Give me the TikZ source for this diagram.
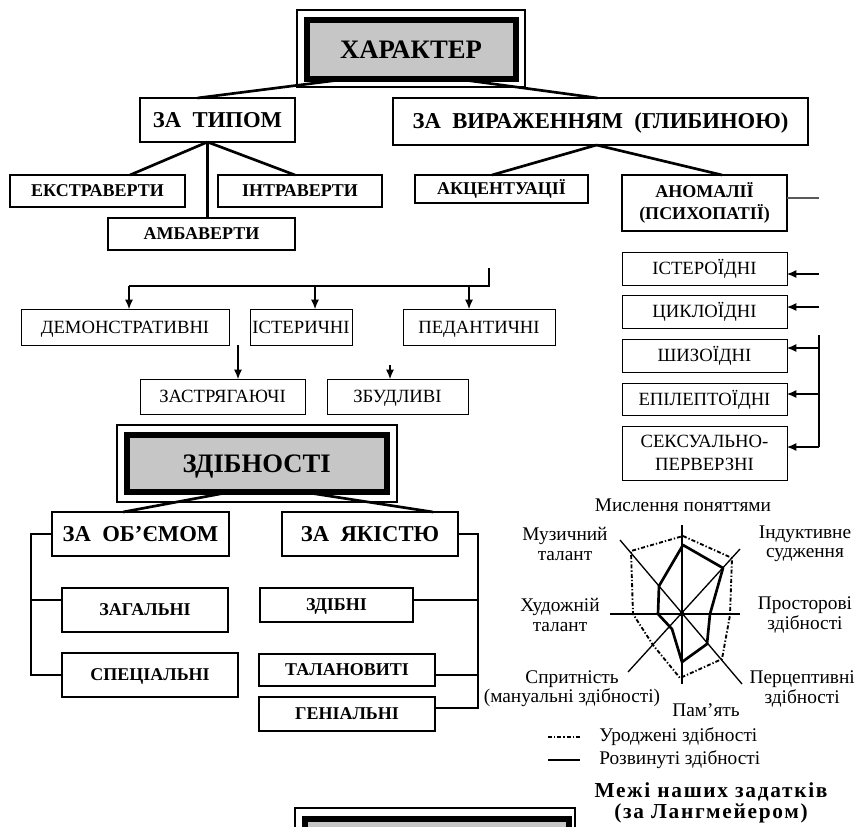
\documentclass[tikz,border=0pt]{standalone}
\usepackage{fontspec}
\setmainfont{Liberation Serif}
\usepackage{tikz}
\usetikzlibrary{arrows.meta}
\newcommand{\pxu}{0.75pt}

\begin{document}
\begin{tikzpicture}[x=0.75pt,y=-0.75pt,>={Latex[length=7pt,width=6pt]},
  wh/.style 2 args={minimum width=#1*\pxu,minimum height=#2*\pxu},
  oneline/.style={text height=#1,text depth=0pt},
  titlebox/.style={draw,line width=4.5pt,fill=gray!45,inner sep=0pt,outer sep=0pt,oneline=13.2pt,
    font=\bfseries\fontsize{20}{22}\selectfont},
  groupbox/.style={draw,line width=2pt,inner sep=0pt,outer sep=0pt,oneline=11.2pt,
    font=\bfseries\fontsize{17}{19}\selectfont},
  kindbox/.style={draw,line width=1.5pt,inner sep=0pt,outer sep=0pt,oneline=8.9pt,
    font=\bfseries\fontsize{13.5}{16}\selectfont},
  sortbox/.style={draw,line width=0.75pt,inner sep=0pt,outer sep=0pt,oneline=9.3pt,
    font=\fontsize{14}{17}\selectfont},
  twolines/.style={text height=,text depth=,align=center},
  linkline/.style={line width=2pt},
  bracket/.style={line width=1pt},
  pointer/.style={line width=0.8pt,->},
  spoke/.style={line width=1pt},
  innate/.style={line width=1.4pt,dash pattern=on 3pt off 1.5pt on 1pt off 1.5pt},
  grown/.style={line width=2pt,line join=round},
  note/.style={align=center,inner sep=0pt,font=\fontsize{14.5}{14.5}\selectfont}]
\useasboundingbox (0,0) rectangle (857,826);
% character
\draw[line width=0.8pt] (297,10) rectangle (525,87);
\node[titlebox,wh={209}{59}] (kh) at (411,49.5) {ХАРАКТЕР};
\node[groupbox,wh={155}{44}] (tp) at (217.5,120) {ЗА\ \ ТИПОМ};
\node[groupbox,wh={415}{47}] (vr) at (600.5,121.5) {ЗА\ \ ВИРАЖЕННЯМ\ \ (ГЛИБИНОЮ)};
\draw[linkline] ([shift={(-64,0)}]kh.south) -- ([shift={(-20,0)}]tp.north);
\draw[linkline] ([shift={(46,0)}]kh.south) -- ([shift={(-3,0)}]vr.north);
% by type
\node[kindbox,wh={175}{32}] (ek) at (97.5,191) {ЕКСТРАВЕРТИ};
\node[kindbox,wh={164}{32}] (in) at (300,191) {ІНТРАВЕРТИ};
\node[kindbox,wh={187}{32}] (am) at (201.5,234) {АМБАВЕРТИ};
\coordinate (tps) at ([shift={(-10,0)}]tp.south);
\draw[linkline] (tps) -- ([shift={(32.5,0)}]ek.north);
\draw[linkline] (tps) -- ([shift={(-5,0)}]in.north);
\draw[linkline] (tps) -- (tps |- am.north);
% by expression
\node[kindbox,wh={173}{28}] (ak) at (501.5,189) {АКЦЕНТУАЦІЇ};
\node[kindbox,twolines,wh={165}{56}] (an) at (704.5,203) {АНОМАЛІЇ\\(ПСИХОПАТІЇ)};
\coordinate (vrs) at ([shift={(-4,0)}]vr.south);
\draw[linkline] (vrs) -- ([shift={(-9.5,0)}]ak.north);
\draw[linkline] (vrs) -- ([shift={(17.5,0)}]an.north);
\coordinate (anr) at (819,198);
\draw[line width=0.9pt,black!65] (an.east |- anr) -- (anr);
% accentuations
\node[sortbox,wh={208}{36}] (de) at (125,327) {ДЕМОНСТРАТИВНІ};
\node[sortbox,wh={102}{36}] (is) at (301,327) {ІСТЕРИЧНІ};
\node[sortbox,wh={152}{36}] (pe) at (479,327) {ПЕДАНТИЧНІ};
\node[sortbox,wh={165}{35}] (za) at (222.5,396.5) {ЗАСТРЯГАЮЧІ};
\node[sortbox,wh={141}{35}] (zb) at (397.5,396.5) {ЗБУДЛИВІ};
\coordinate (ac1) at (489,268);
\coordinate (ac2) at (489,286);
\coordinate (ad) at (129,286);
\coordinate (ai) at (315,286);
\coordinate (ap) at (469,286);
\draw[line width=0.8pt] (ac1) -- (ac2) -- (ad);
\draw[pointer] (ad) -- (ad |- de.north);
\draw[pointer] (ai) -- (ai |- is.north);
\draw[pointer] (ap) -- (ap |- pe.north);
\coordinate (az) at (238,345);
\draw[pointer] (az) -- (az |- za.north);
\coordinate (ab) at (390,365);
\draw[pointer] (ab) -- (ab |- zb.north);
% psychopathies
\node[sortbox,wh={165}{33}] (io) at (704.5,268.5) {ІСТЕРОЇДНІ};
\node[sortbox,wh={165}{33}] (ci) at (704.5,311.5) {ЦИКЛОЇДНІ};
\node[sortbox,wh={165}{33}] (sh) at (704.5,355.5) {ШИЗОЇДНІ};
\node[sortbox,wh={165}{32}] (ep) at (704.5,399) {ЕПІЛЕПТОЇДНІ};
\node[sortbox,twolines,wh={165}{54}] (se) at (704.5,453) {СЕКСУАЛЬНО-\\ПЕРВЕРЗНІ};
\coordinate (p1) at (819,274);
\coordinate (p2) at (819,307);
\coordinate (p3) at (819,335);
\coordinate (p4) at (819,348);
\coordinate (p5) at (819,394);
\coordinate (p6) at (819,447);
\draw[pointer] (p1) -- (p1 -| io.east);
\draw[pointer] (p2) -- (p2 -| ci.east);
\draw[line width=0.8pt] (p3) -- (p6);
\draw[pointer] (p4) -- (p4 -| sh.east);
\draw[pointer] (p5) -- (p5 -| ep.east);
\draw[pointer] (p6) -- (p6 -| se.east);
% abilities
\draw[line width=0.8pt] (117,425) rectangle (397,502);
\node[titlebox,wh={259.5}{56.5}] (zd) at (256.75,463.25) {ЗДІБНОСТІ};
\node[groupbox,wh={177}{44}] (ob) at (140.5,534) {ЗА\ \ ОБ’ЄМОМ};
\node[groupbox,wh={176}{44}] (ya) at (370,534) {ЗА\ \ ЯКІСТЮ};
\draw[linkline] ([shift={(-23.75,0)}]zd.south) -- ([shift={(-17.5,0)}]ob.north);
\draw[linkline] ([shift={(43.25,0)}]zd.south) -- ([shift={(63,0)}]ya.north);
\node[kindbox,wh={166}{44}] (zg) at (145,610) {ЗАГАЛЬНІ};
\node[kindbox,wh={176}{44}] (sp) at (150,675) {СПЕЦІАЛЬНІ};
\node[kindbox,wh={153}{34}] (zn) at (336.5,605) {ЗДІБНІ};
\node[kindbox,wh={176}{32}] (tl) at (347,670) {ТАЛАНОВИТІ};
\node[kindbox,wh={176}{34}] (ge) at (347,714) {ГЕНІАЛЬНІ};
\coordinate (bl) at (31,534);
\coordinate (bz) at (31,600);
\draw[bracket] (ob.west) -- (bl) |- (sp.west);
\draw[bracket] (bz) -- (bz -| zg.west);
\coordinate (br) at (478,534);
\coordinate (bn) at (478,600);
\coordinate (bt) at (478,675);
\coordinate (bg) at (478,708);
\draw[bracket] (ya.east) -- (br) -- (bg) -- (bg -| ge.east);
\draw[bracket] (bn) -- (bn -| zn.east);
\draw[bracket] (bt) -- (bt -| tl.east);
% radar
\draw[spoke] (682,525) -- (682,684);
\draw[spoke] (610,614) -- (740,614);
\draw[spoke] (620,540) -- (742,684);
\draw[spoke] (740,549) -- (628,672);
\draw[innate] (683,536) -- (732,558) -- (730,615) -- (722,659) -- (680,678)
  -- (653,645) -- (633,614) -- (631,551) -- cycle;
\draw[grown] (683,545) -- (723,568) -- (710,614) -- (707,644) -- (682,662)
  -- (672,629) -- (658,614) -- (659,586) -- cycle;
\fill (682,614) circle (2.5);
\node[note] (mp) at (683,505) {Мислення поняттями};
\node[note] (mt) at (565,544) {Музичний\\талант};
\node[note] (id) at (805,544) {Індуктивне\\судження};
\node[note] (ht) at (560,615) {Художній\\талант};
\node[note] (pz) at (805,615) {Просторові\\здібності};
\node[note] (sr) at (572,689) {Спритність\\(мануальні здібності)};
\node[note,anchor=east] (pc) at (855,689) {Перцептивні\\здібності};
\node[note] (pm) at (706,710) {Пам’ять};
% legend
\node[note,anchor=west] (lu) at (599,737) {Уроджені здібності};
\node[note,anchor=west] (lr) at (599,760) {Розвинуті здібності};
\draw[innate] ([shift={(-51,0)}]lu.west) -- ([shift={(-19,0)}]lu.west);
\draw[grown] ([shift={(-51,0)}]lr.west) -- ([shift={(-19,0)}]lr.west);
\node[align=center,inner sep=0pt,
  font=\bfseries\fontsize{16}{16}\selectfont\addfontfeatures{LetterSpace=8}] (mz) at (711,803)
  {Межі наших задатків\\(за Лангмейером)};
% next title
\begin{scope}
\clip (0,0) rectangle (857,826);
\draw[line width=0.8pt] (295,808) rectangle (575,860);
\draw[line width=4.5pt,fill=gray!45] (305,818.5) rectangle (568.5,870);
\end{scope}
\end{tikzpicture}
\end{document}
